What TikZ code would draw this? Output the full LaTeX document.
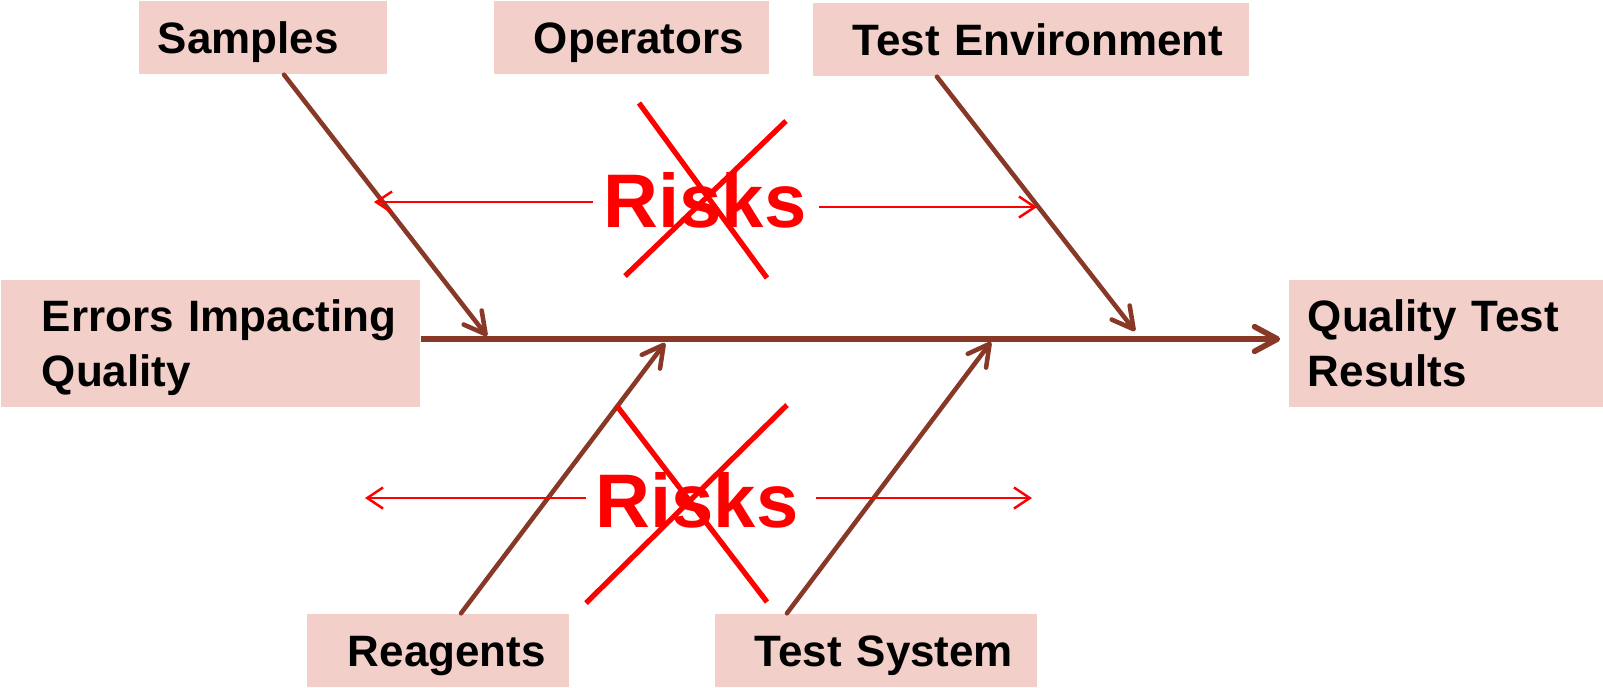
\documentclass[tikz,border=0pt]{standalone}
\usepackage{fontspec}
\setmainfont{Liberation Sans}
\usetikzlibrary{arrows.meta}
\definecolor{boxfill}{RGB}{242,207,200}
\definecolor{fishbrown}{RGB}{136,56,38}
\definecolor{riskred}{RGB}{255,0,0}
\begin{document}
\begin{tikzpicture}[x=0.01cm,y=-0.01cm,
  box/.style={fill=boxfill, draw=none, inner xsep=0pt, inner ysep=0pt, align=left,
    font=\fontsize{12.5}{15.65}\selectfont\bfseries, text=black,
    text height=8.95pt, text depth=0pt},
  twoline/.style={text depth=15.65pt},
  bone/.style={draw=fishbrown, line width=1.3pt, line cap=round, -{Straight Barb[length=6pt,width=6.5pt,round]}},
  spine/.style={draw=fishbrown, line width=1.6pt, -{Straight Barb[length=6.5pt,width=7pt,round]}},
  riskword/.style={text=riskred, font=\fontsize{21.6}{26}\selectfont\bfseries, inner sep=0pt},
  riskarrow/.style={draw=riskred, line width=0.7pt, -{Straight Barb[length=4.5pt,width=6pt]}},
  cross/.style={draw=riskred, line width=1.5pt},
]
\useasboundingbox (0,0) rectangle (1603,687);

% boxes
\node[box, text width=2.48cm, minimum height=0.73cm] (samples) at (263,37.5) {\hspace*{0.19cm}Samples};
\node[box, text width=2.75cm, minimum height=0.73cm] (operators) at (631.5,37.5) {\hspace*{0.40cm}Operators};
\node[box, text width=4.36cm, minimum height=0.73cm] (testenv) at (1031,39.5) {\hspace*{0.40cm}Test Environment};
\node[box, twoline, text width=4.19cm, minimum height=1.27cm] (errors) at (210.5,343.5) {\hspace*{0.41cm}Errors Impacting\\\hspace*{0.41cm}Quality};
\node[box, twoline, text width=3.14cm, minimum height=1.27cm] (quality) at (1446,343.5) {\hspace*{0.19cm}Quality Test\\\hspace*{0.19cm}Results};
\node[box, text width=2.62cm, minimum height=0.73cm] (reagents) at (438,650.5) {\hspace*{0.41cm}Reagents};
\node[box, text width=3.22cm, minimum height=0.73cm] (testsys) at (876,650.5) {\hspace*{0.40cm}Test System};

% spine
\coordinate (sy) at (0,339);
\draw[spine, shorten >=0.08cm] (errors.east |- sy) -- (quality.west |- sy);

% bones
\coordinate (tS) at (487,336);
\coordinate (tE) at (1135,331);
\coordinate (tR) at (665,343);
\coordinate (tT) at (991,342);
\draw[bone] ([xshift=0.21cm]samples.south) -- (tS);
\draw[bone] ([xshift=-0.94cm]testenv.south) -- (tE);
\draw[bone] ([xshift=0.23cm]reagents.north) -- (tR);
\draw[bone] ([xshift=-0.89cm]testsys.north) -- (tT);

% risks words
\node[riskword] (risksA) at (705,200) {Risks};
\node[riskword] (risksB) at (697,500) {Risks};

% risk arrows
\coordinate (laA) at (374,202);
\coordinate (raA) at (1037,207);
\coordinate (laB) at (365,498);
\coordinate (raB) at (1032,498);
\draw[riskarrow] (risksA.west |- laA) ++(-10,0) -- (laA);
\draw[riskarrow] (risksA.east |- raA) ++(12,0) -- (raA);
\draw[riskarrow] (risksB.west |- laB) ++(-9,0) -- (laB);
\draw[riskarrow] (risksB.east |- raB) ++(17,0) -- (raB);

% crosses
\draw[cross] (639,103) -- (767,278);
\draw[cross] (786,121) -- (625,276);
\draw[cross] (617,406) -- (767,602);
\draw[cross] (787,405) -- (586,603);
\end{tikzpicture}
\end{document}
